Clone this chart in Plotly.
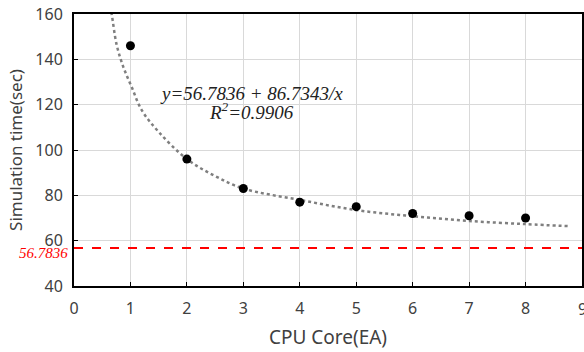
import plotly.graph_objects as go

cores = [1, 2, 3, 4, 5, 6, 7, 8]
sim_time = [146, 96, 83, 77, 75, 72, 71, 70]

trend_x = [0.62, 0.667, 0.755, 0.873, 1.02, 1.2, 1.5, 2, 2.5, 3, 4, 5, 6, 7, 8, 8.78]
trend_y = [166, 160, 146.5, 136.7, 127.9, 117.6, 108, 96, 88.5, 83, 78, 73.5, 70.8, 68.7, 67.3, 66.4]

asymptote = 56.7836
eq_text = "y=56.7836 + 86.7343/x"
r2_text = "R<sup>2</sup>=0.9906"
x_ticks = [0, 1, 2, 3, 4, 5, 6, 7, 8, 9]
y_ticks = [40, 60, 80, 100, 120, 140, 160]

fig = go.Figure()
fig.add_trace(go.Scatter(x=trend_x, y=trend_y, mode="lines", line=dict(color="#7f7f7f", width=2.5, dash="dot", shape="spline"), hoverinfo="skip"))
fig.add_trace(go.Scatter(x=[0, 9], y=[asymptote, asymptote], mode="lines", line=dict(color="#ff0000", width=2, dash="dash")))
fig.add_trace(go.Scatter(x=cores, y=sim_time, mode="markers", marker=dict(color="black", size=9)))

eq_font = dict(family="Liberation Serif", size=19, color="#222")
tick_font = dict(family="Noto Sans", size=16, color="#404040")
fig.add_annotation(x=3.15, y=124.9, xref="x", yref="y", text="<i>" + eq_text + "</i>", showarrow=False, font=eq_font)
fig.add_annotation(x=3.15, y=117.0, xref="x", yref="y", text="<i>" + r2_text + "</i>", showarrow=False, font=eq_font)
fig.add_annotation(x=0, y=asymptote, xref="x", yref="y", text="<i>56.7836</i>", showarrow=False, xanchor="right",
                   xshift=-4, yshift=-5, font=dict(family="Liberation Serif", size=15, color="#ff0000"))
# tick label "9" at the right edge (partly cut off in the reference)
fig.add_annotation(x=x_ticks[-1], y=0, xref="x", yref="paper", text=str(x_ticks[-1]), showarrow=False,
                   yanchor="top", yshift=-10, font=tick_font)

axis_common = dict(showline=True, linecolor="black", linewidth=2, mirror=True, showgrid=True, gridcolor="#d9d9d9",
                   gridwidth=1, ticks="inside", ticklen=4, tickcolor="black", zeroline=False, automargin=False,
                   tickfont=tick_font)
fig.update_xaxes(range=[0, 9], tickvals=x_ticks[:-1], ticklabelstandoff=7,
                 title=dict(text="CPU Core(EA)", font=dict(family="Noto Sans", size=19, color="#404040"), standoff=12), **axis_common)
fig.update_yaxes(range=[40, 160], tickvals=y_ticks, ticklabelstandoff=6,
                 title=dict(text="Simulation time(sec)", font=dict(family="Noto Sans", size=17, color="#404040"), standoff=8), **axis_common)
fig.update_xaxes(showgrid=True)

fig.update_layout(width=584, height=352, margin=dict(l=74, r=2, t=14, b=66), plot_bgcolor="white", paper_bgcolor="white",
                  showlegend=False)
fig.write_html("out.html", config={"displayModeBar": False},
               post_script="document.body.style.margin='0';document.body.style.overflow='hidden';")
